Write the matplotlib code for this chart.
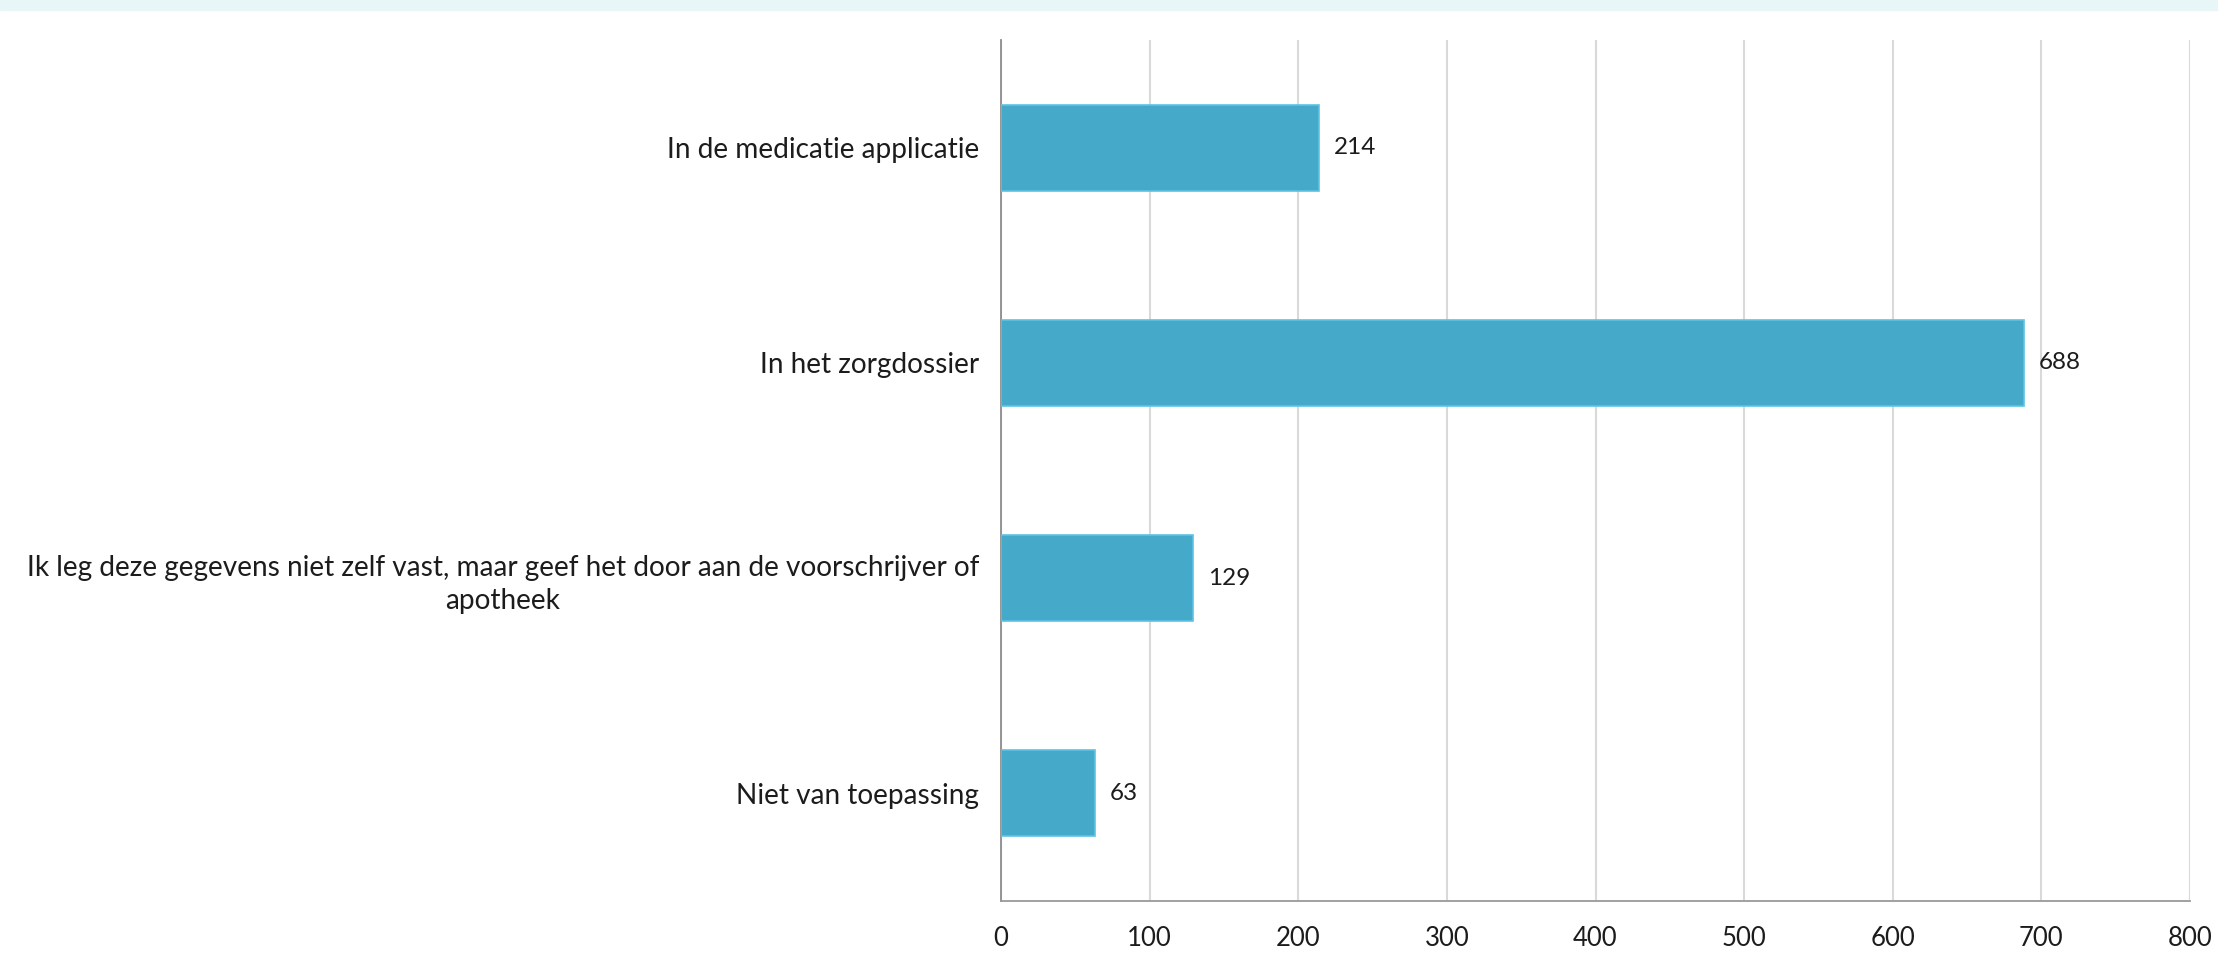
import matplotlib.pyplot as plt
from matplotlib.patches import Rectangle

categories = [
    "In de medicatie applicatie",
    "In het zorgdossier",
    "Ik leg deze gegevens niet zelf vast, maar geef het door aan de voorschrijver of\napotheek",
    "Niet van toepassing",
]
values = [214, 688, 129, 63]
xticks = [0, 100, 200, 300, 400, 500, 600, 700, 800]

plt.rcParams['font.family'] = ['Lato', 'DejaVu Sans']
txt = '#1c1c1c'

fig = plt.figure(figsize=(22.18, 9.59), dpi=100)
# light strip at the top
fig.patches.append(Rectangle((0, 1 - 10 / 959), 1, 10 / 959, transform=fig.transFigure,
                             color='#e8f6f7', zorder=0))

ax = fig.add_axes([1001 / 2218, 1 - 901 / 959, 1189 / 2218, 861 / 959])
ypos = list(range(len(categories)))
ax.barh(ypos, values, height=0.4, color='#45aac9', edgecolor='#5cc3e4', linewidth=1.2, zorder=3)

for y, v in zip(ypos, values):
    ax.text(v + 10, y, str(v), va='center', ha='left', fontsize=17.5, color=txt)

ax.set_yticks(ypos)
ax.set_yticklabels(categories, fontsize=20.2, color=txt, ha='center',
                   multialignment='center', linespacing=1.35)
ax.set_ylim(3.5, -0.5)
ax.set_xlim(0, 800)
ax.set_xticks(xticks)
ax.set_xticklabels([str(t) for t in xticks], fontsize=18.5, color=txt)
ax.tick_params(axis='both', length=0)
ax.tick_params(axis='x', pad=18)
ax.xaxis.grid(True, color='#d9d9d9', linewidth=1.5, zorder=0)
ax.set_axisbelow(True)
for s in ['top', 'right']:
    ax.spines[s].set_visible(False)
ax.spines['left'].set_color('#8c8c8c')
ax.spines['bottom'].set_color('#9a9a9a')
ax.spines['left'].set_linewidth(1.3)
ax.spines['bottom'].set_linewidth(1.3)

# centre each y label on itself, with its right edge at the same spot
fig.canvas.draw()
renderer = fig.canvas.get_renderer()
right_edge = 979
for lb in ax.get_yticklabels():
    w = lb.get_window_extent(renderer).width
    x_px = right_edge - w / 2
    xa = ax.transAxes.inverted().transform((x_px, 0))[0]
    lb.set_transform(ax.get_yaxis_transform())
    lb.set_x(xa)

fig.savefig('out.png', dpi=100)
